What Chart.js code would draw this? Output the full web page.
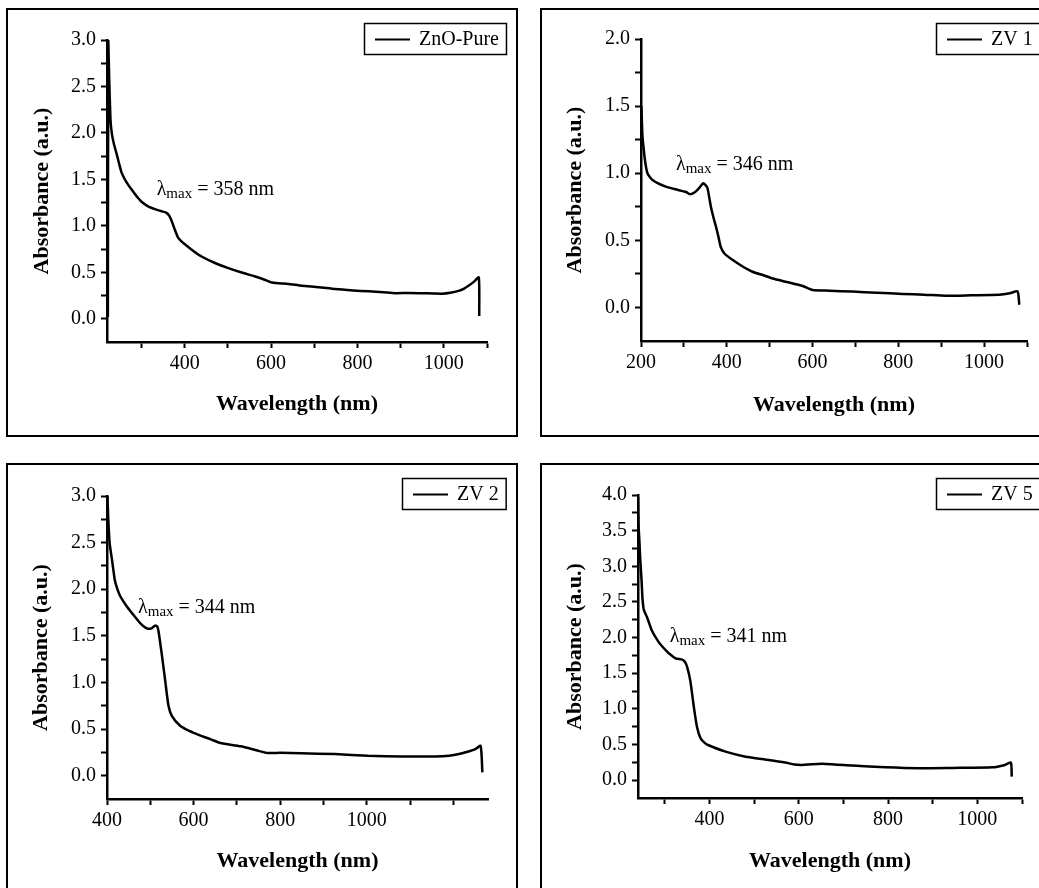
<!DOCTYPE html>
<html>
<head>
<meta charset="utf-8">
<script src="https://cdn.jsdelivr.net/npm/chart.js@4.4.1/dist/chart.umd.min.js"></script>
<style>
  html, body { margin: 0; padding: 0; background: #fff; width: 1039px; height: 888px; overflow: hidden; }
  .panel { position: absolute; width: 512px; height: 429px; border: 2px solid #000; box-sizing: border-box; background: #fff; }
  .panel canvas { display: block; }
</style>
</head>
<body>
<div class="panel" style="left:6px;top:8px"><canvas id="c1" width="508" height="425"></canvas></div>
<div class="panel" style="left:540px;top:8px"><canvas id="c2" width="508" height="425"></canvas></div>
<div class="panel" style="left:6px;top:463px"><canvas id="c3" width="508" height="425"></canvas></div>
<div class="panel" style="left:540px;top:463px"><canvas id="c4" width="508" height="425"></canvas></div>
<script>
// ZnO-Pure
const znoWave = [222, 223, 225, 228, 231, 236, 242, 248, 254, 265, 277, 290, 300, 315, 331, 345, 358, 364, 370, 377, 385, 393, 401, 420, 439, 470, 501, 530, 563, 585, 602, 640, 671, 710, 748, 790, 826, 860, 887, 920, 949, 975, 996, 1015, 1034, 1047, 1057, 1070, 1081, 1082];
const znoAbs = [0.02, 3.0, 2.6, 2.15, 2.0, 1.88, 1.78, 1.67, 1.57, 1.47, 1.39, 1.31, 1.26, 1.21, 1.18, 1.16, 1.14, 1.11, 1.05, 0.96, 0.87, 0.83, 0.80, 0.73, 0.67, 0.60, 0.545, 0.50, 0.455, 0.42, 0.39, 0.375, 0.355, 0.34, 0.32, 0.305, 0.295, 0.285, 0.275, 0.278, 0.275, 0.272, 0.27, 0.28, 0.30, 0.325, 0.355, 0.40, 0.445, 0.03];

// ZV 1
const zv1Wave = [201, 203, 205, 208, 211, 215, 221, 227, 240, 258, 280, 305, 313, 320, 328, 337, 345, 351, 355, 363, 369, 375, 381, 386, 395, 414, 437, 460, 485, 507, 540, 577, 600, 640, 693, 750, 810, 860, 911, 970, 1035, 1060, 1078, 1082];
const zv1Abs = [1.5, 1.3, 1.22, 1.13, 1.06, 1.0, 0.97, 0.95, 0.925, 0.90, 0.88, 0.86, 0.845, 0.848, 0.865, 0.895, 0.925, 0.91, 0.89, 0.75, 0.67, 0.60, 0.52, 0.45, 0.40, 0.353, 0.305, 0.266, 0.24, 0.216, 0.19, 0.16, 0.13, 0.125, 0.118, 0.11, 0.10, 0.095, 0.087, 0.09, 0.094, 0.105, 0.12, 0.02];

// ZV 2
const zv2Wave = [401, 403, 406, 412, 418, 424, 430, 445, 460, 476, 492, 503, 511, 516, 519, 526, 534, 542, 550, 569, 590, 616, 640, 662, 709, 747, 771, 800, 848, 926, 1003, 1081, 1158, 1190, 1213, 1235, 1251, 1263, 1267];
const zv2Abs = [3.0, 2.75, 2.5, 2.3, 2.10, 2.0, 1.93, 1.82, 1.73, 1.64, 1.58, 1.58, 1.61, 1.60, 1.55, 1.32, 1.035, 0.75, 0.64, 0.535, 0.48, 0.43, 0.39, 0.35, 0.315, 0.27, 0.243, 0.245, 0.24, 0.232, 0.214, 0.207, 0.207, 0.215, 0.232, 0.26, 0.286, 0.32, 0.036];

// ZV 5
const zv5Wave = [240, 241, 243, 245, 248, 250, 253, 260, 271, 286, 298, 309, 324, 339, 345, 350, 357, 361, 365, 372, 380, 390, 398, 436, 481, 533, 570, 590, 608, 630, 660, 720, 795, 869, 944, 1034, 1060, 1075, 1077];
const zv5Abs = [3.97, 3.6, 3.37, 3.1, 2.80, 2.55, 2.39, 2.29, 2.10, 1.94, 1.85, 1.78, 1.71, 1.69, 1.66, 1.59, 1.40, 1.22, 1.03, 0.75, 0.59, 0.52, 0.49, 0.40, 0.33, 0.284, 0.247, 0.22, 0.214, 0.225, 0.228, 0.205, 0.18, 0.167, 0.172, 0.18, 0.21, 0.247, 0.05];

// tick values and labelled ticks
const znoXTicks = [300, 400, 500, 600, 700, 800, 900, 1000, 1100];
const znoXLabels = [400, 600, 800, 1000];
const zv1XTicks = [200, 300, 400, 500, 600, 700, 800, 900, 1000, 1100];
const zv1XLabels = [200, 400, 600, 800, 1000];
const zv2XTicks = [400, 500, 600, 700, 800, 900, 1000, 1100, 1200];
const zv2XLabels = [400, 600, 800, 1000];
const zv5XTicks = [300, 400, 500, 600, 700, 800, 900, 1000, 1100];
const zv5XLabels = [400, 600, 800, 1000];

const yTicks3 = [0, 0.25, 0.5, 0.75, 1.0, 1.25, 1.5, 1.75, 2.0, 2.25, 2.5, 2.75, 3.0];
const yTicks2 = [0, 0.25, 0.5, 0.75, 1.0, 1.25, 1.5, 1.75, 2.0];
const yTicks4 = [0, 0.25, 0.5, 0.75, 1.0, 1.25, 1.5, 1.75, 2.0, 2.25, 2.5, 2.75, 3.0, 3.25, 3.5, 3.75, 4.0];
const yLabels3 = [0, 0.5, 1.0, 1.5, 2.0, 2.5, 3.0];
const yLabels2 = [0, 0.5, 1.0, 1.5, 2.0];
const yLabels4 = [0, 0.5, 1.0, 1.5, 2.0, 2.5, 3.0, 3.5, 4.0];

const SERIF = '"Liberation Serif", "Times New Roman", serif';
const CW = 508, CH = 425;

const boxLegend = {
  id: 'boxLegend',
  afterDraw(chart) {
    const ctx = chart.ctx;
    const label = chart.data.datasets[0].label;
    ctx.save();
    ctx.font = '20px ' + SERIF;
    const tw = ctx.measureText(label).width;
    const w = 11 + 35 + 9 + tw + 7, h = 31;
    const x = Math.round(chart.width - 10 - w), y = 13;
    ctx.strokeStyle = '#000';
    ctx.lineWidth = 1.5;
    ctx.strokeRect(x + 0.5, y + 0.5, w, h);
    ctx.lineWidth = 2;
    ctx.beginPath();
    ctx.moveTo(x + 11, y + h / 2 + 1);
    ctx.lineTo(x + 46, y + h / 2 + 1);
    ctx.stroke();
    ctx.fillStyle = '#000';
    ctx.textBaseline = 'middle';
    ctx.fillText(label, x + 55, y + h / 2 + 1);
    ctx.restore();
  }
};

const lambdaNote = {
  id: 'lambdaNote',
  afterDatasetsDraw(chart, args, opts) {
    const ctx = chart.ctx;
    const px = chart.scales.x.getPixelForValue(opts.x);
    const py = chart.scales.y.getPixelForValue(opts.y);
    ctx.save();
    ctx.fillStyle = '#000';
    ctx.textBaseline = 'alphabetic';
    ctx.font = '20px ' + SERIF;
    ctx.fillText('λ', px, py);
    let off = ctx.measureText('λ').width;
    ctx.font = '15px ' + SERIF;
    ctx.fillText('max', px + off, py + 3);
    off += ctx.measureText('max').width;
    ctx.font = '20px ' + SERIF;
    ctx.fillText(' ' + opts.text, px + off, py);
    ctx.restore();
  }
};

function makeChart(id, c) {
  const points = c.wave.map((w, i) => ({ x: w, y: c.abs[i] }));
  const tickFont = { family: SERIF, size: 20 };
  const titleFont = { family: SERIF, size: 22, weight: 'bold', lineHeight: 1 };
  return new Chart(document.getElementById(id), {
    type: 'line',
    data: {
      datasets: [{
        label: c.label,
        data: points,
        borderColor: '#000',
        borderWidth: 2.5,
        pointRadius: 0,
        tension: 0.2,
        fill: false
      }]
    },
    plugins: [boxLegend, lambdaNote],
    options: {
      responsive: false,
      animation: false,
      events: [],
      layout: { padding: { left: 0, top: c.area.top, right: CW - c.area.right, bottom: 0 } },
      plugins: {
        legend: { display: false },
        tooltip: { enabled: false },
        lambdaNote: c.note
      },
      scales: {
        x: {
          type: 'linear',
          min: c.xMin,
          max: c.xMax,
          afterFit: s => { s.height = CH - c.area.bottom; },
          afterBuildTicks: s => { s.ticks = c.xTicks.map(v => ({ value: v })); },
          ticks: {
            autoSkip: false, maxRotation: 0, padding: 4, color: '#000', font: tickFont,
            callback: v => c.xLabels.includes(v) ? String(v) : ''
          },
          grid: { drawOnChartArea: false, drawTicks: true, tickLength: 6, color: '#000', tickWidth: 2 },
          border: { display: true, color: '#000', width: 2.5 },
          title: {
            display: true, text: 'Wavelength (nm)', color: '#000', font: titleFont,
            padding: { top: 0, bottom: CH - c.xTitleY - 11 }
          }
        },
        y: {
          min: -0.25,
          max: c.yMax,
          afterFit: s => { s.width = c.area.left; },
          afterBuildTicks: s => { s.ticks = c.yTicks.map(v => ({ value: v })); },
          ticks: {
            autoSkip: false, padding: 5, color: '#000', font: tickFont,
            callback: v => c.yLabels.includes(v) ? v.toFixed(1) : ''
          },
          grid: { drawOnChartArea: false, drawTicks: true, tickLength: 6, color: '#000', tickWidth: 2 },
          border: { display: true, color: '#000', width: 2.5 },
          title: {
            display: true, text: 'Absorbance (a.u.)', color: '#000', font: titleFont,
            padding: { top: c.yTitleX - 11, bottom: 0 }
          }
        }
      }
    }
  });
}

makeChart('c1', {
  label: 'ZnO-Pure', wave: znoWave, abs: znoAbs,
  xMin: 220, xMax: 1100, xTicks: znoXTicks, xLabels: znoXLabels,
  yMax: 3.0, yTicks: yTicks3, yLabels: yLabels3,
  area: { left: 99, right: 479, top: 30, bottom: 332 }, yTitleX: 34, xTitleY: 394,
  note: { x: 335, y: 1.333, text: '= 358 nm' }
});
makeChart('c2', {
  label: 'ZV 1', wave: zv1Wave, abs: zv1Abs,
  xMin: 200, xMax: 1100, xTicks: zv1XTicks, xLabels: zv1XLabels,
  yMax: 2.0, yTicks: yTicks2, yLabels: yLabels2,
  area: { left: 99, right: 485, top: 29, bottom: 331 }, yTitleX: 33, xTitleY: 395,
  note: { x: 281.5, y: 1.025, text: '= 346 nm' }
});
makeChart('c3', {
  label: 'ZV 2', wave: zv2Wave, abs: zv2Abs,
  xMin: 400, xMax: 1280, xTicks: zv2XTicks, xLabels: zv2XLabels,
  yMax: 3.0, yTicks: yTicks3, yLabels: yLabels3,
  area: { left: 99, right: 480, top: 31, bottom: 334 }, yTitleX: 33, xTitleY: 396,
  note: { x: 471.7, y: 1.75, text: '= 344 nm' }
});
makeChart('c4', {
  label: 'ZV 5', wave: zv5Wave, abs: zv5Abs,
  xMin: 240, xMax: 1100, xTicks: zv5XTicks, xLabels: zv5XLabels,
  yMax: 4.0, yTicks: yTicks4, yLabels: yLabels4,
  area: { left: 96, right: 480, top: 30, bottom: 333 }, yTitleX: 33, xTitleY: 396,
  note: { x: 311, y: 1.94, text: '= 341 nm' }
});
</script>
</body>
</html>
